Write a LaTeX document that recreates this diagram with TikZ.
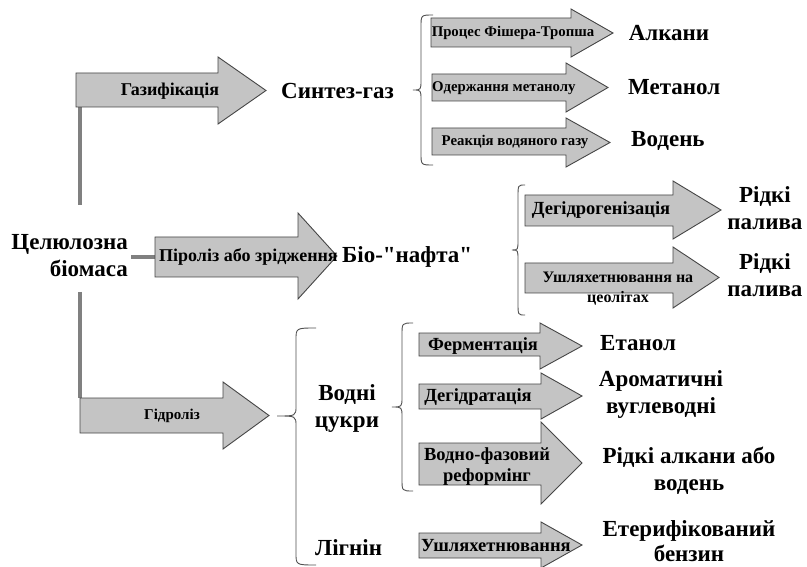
\documentclass[tikz,border=0pt]{standalone}
\usepackage{fontspec}
\newfontfamily\mainserif{Liberation Serif}
\newcommand\fatarr[7]{%
  \draw[arrshape] (#1,#2) -- (#4,#2) -- (#4,#5) -- (#7,{(#5+#6)/2}) -- (#4,#6) -- (#4,#3) -- (#1,#3) -- cycle;}
\newcommand\bracket[6]{% xtip ytip xv xr ytop ybot
  \draw[bracestyle] (#4,#5) .. controls (#3,#5) .. (#3,#5+12) -- (#3,#2-10) .. controls (#3,#2) .. (#1,#2)
     .. controls (#3,#2) .. (#3,#2+10) -- (#3,#6-12) .. controls (#3,#6) .. (#4,#6);}
\tikzset{
  arrshape/.style={fill=arrgray, draw=edgegray, line width=0.9pt, line join=miter},
  bracestyle/.style={draw=bracegray, line width=0.9pt},
  conn/.style={draw=conngray, line width=4.5pt},
  prod/.style={font=\mainserif\bfseries\fontsize{23}{27}\selectfont, inner sep=0pt, text=black},
  labA/.style={font=\mainserif\bfseries\fontsize{18}{20}\selectfont, inner sep=0pt},
  labH/.style={font=\mainserif\bfseries\fontsize{15}{20}\selectfont, inner sep=0pt},
  labB/.style={font=\mainserif\bfseries\fontsize{18.5}{21}\selectfont, inner sep=0pt},
  labZ/.style={font=\mainserif\bfseries\fontsize{16}{20}\selectfont, inner sep=0pt},
  labC/.style={font=\mainserif\bfseries\fontsize{14.8}{16}\selectfont, inner sep=0pt},
}
\definecolor{arrgray}{RGB}{196,196,196}
\definecolor{edgegray}{RGB}{70,70,70}
\definecolor{bracegray}{RGB}{80,80,80}
\definecolor{conngray}{RGB}{128,128,128}
\begin{document}
\begin{tikzpicture}[x=1pt,y=-1pt]
\useasboundingbox (0,0) rectangle (807,567);
\fill[white] (0,0) rectangle (807,567);
% connectors
\coordinate (c1) at (80,107);
\coordinate (c2) at (80,205);
\coordinate (c3) at (80,292);
\coordinate (c4) at (80,398);
\coordinate (c5) at (131,257);
\coordinate (c6) at (156,257);
\draw[conn] (c1) -- (c2);
\draw[conn] (c3) -- (c4);
\draw[conn] (c5) -- (c6);
% level-1 arrows
\fatarr{76}{73}{107}{218}{57}{124}{266}
\fatarr{155}{237}{277}{298}{213}{299}{337}
\fatarr{80}{398}{433}{223}{382}{449}{269}
% braces
\bracket{413}{90}{421}{433}{15}{165}
\bracket{512}{250}{518}{525}{185}{315}
\bracket{277}{416}{296}{316}{328}{565}
\bracket{392}{407}{402}{413}{323}{491}
% level-2 arrows
\fatarr{431}{18}{47}{571}{9}{57}{613}
\fatarr{432}{74}{101}{566}{63}{112}{608}
\fatarr{432}{128}{155}{566}{118}{167}{610}
\fatarr{525}{195}{226}{673}{181}{239}{721}
\fatarr{525}{263}{293}{673}{247}{308}{719}
\fatarr{419}{333}{356}{540}{323}{369}{582}
\fatarr{419}{384}{409}{541}{373}{419}{582}
\fatarr{419}{443}{485}{541}{422}{504}{582}
\fatarr{419}{533}{558}{541}{522}{568}{582}
% arrow labels
\node[labA] (lgas) at (170,91) {Газифікація};
\node[labA, anchor=west] (lpyr) at (159,257) {Піроліз або зрідження};
\node[labH] (lhyd) at (172,416) {Гідроліз};
\node[labC] (lft) at (513,33) {Процес Фішера-Тропша};
\node[labC, anchor=west] (lmeoh) at (432,88) {Одержання метанолу};
\node[labC] (lwgs) at (515,142) {Реакція водяного газу};
\node[labB] (ldhg) at (601,210) {Дегідрогенізація};
\node[labZ, align=center] (lzeo) at (618,289) {Ушляхетнювання на\\цеолітах};
\node[labB] (lfer) at (483,346) {Ферментація};
\node[labB] (ldhd) at (478,397) {Дегідратація};
\node[labB, align=center] (lapr) at (487,467) {Водно-фазовий\\реформінг};
\node[labB, anchor=west] (lupg) at (421,546) {Ушляхетнювання};
% products
\node[prod, align=right, anchor=east] (src) at (128,256) {Целюлозна\\біомаса};
\node[prod, anchor=west] (syn) at (281,91) {Синтез-газ};
\node[prod, anchor=west] (bio) at (342,257) {Біо-"нафта"};
\node[prod, align=center] (sug) at (347,409) {Водні\\цукри};
\node[prod, anchor=west] (lig) at (315,548) {Лігнін};
\node[prod, align=center] (alk) at (669,33) {Алкани};
\node[prod, anchor=west] (met) at (628,87) {Метанол};
\node[prod, anchor=west] (hyd) at (631,141) {Водень};
\node[prod, align=center] (fuel1) at (765,208) {Рідкі\\палива};
\node[prod, align=center] (fuel2) at (765,275) {Рідкі\\палива};
\node[prod, anchor=west] (eth) at (600,343) {Етанол};
\node[prod, align=center] (aro) at (661,395) {Ароматичні\\вуглеводні};
\node[prod, align=center] (alkh) at (689,471) {Рідкі алкани або\\водень};
\node[prod, align=center, font=\mainserif\bfseries\fontsize{23}{25.5}\selectfont] (gas) at (689,541) {Етерифікований\\бензин};
\end{tikzpicture}
\end{document}
